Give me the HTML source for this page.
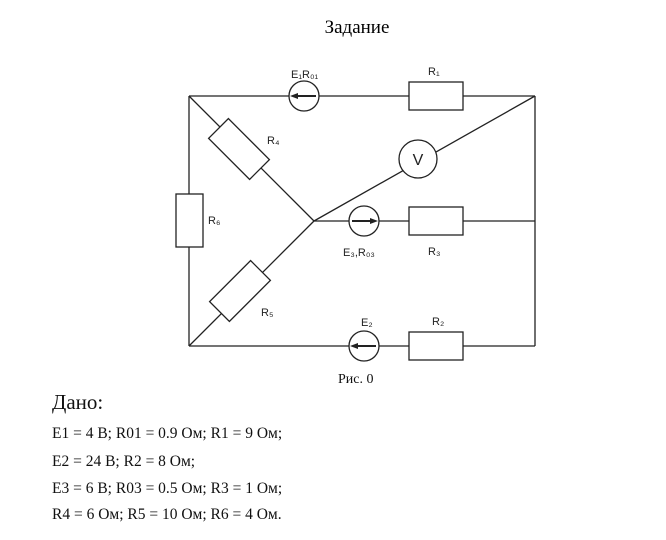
<!DOCTYPE html>
<html><head><meta charset="utf-8"><style>
html,body{margin:0;padding:0;background:#fff;}
svg{display:block;}
</style></head><body>
<svg width="666" height="540" viewBox="0 0 666 540" xmlns="http://www.w3.org/2000/svg">
<rect width="666" height="540" fill="#fff"/>
<text x="357" y="33" font-family="Liberation Serif, serif" font-size="19" text-anchor="middle">Задание</text>
<g stroke="#222" stroke-width="1.3" fill="none">
<line x1="189" y1="96" x2="289" y2="96"/>
<line x1="319" y1="96" x2="409" y2="96"/>
<line x1="463" y1="96" x2="535" y2="96"/>
<line x1="535" y1="96" x2="535" y2="346"/>
<line x1="189" y1="96" x2="189" y2="194"/>
<line x1="189" y1="247" x2="189" y2="346"/>
<line x1="189" y1="346" x2="349" y2="346"/>
<line x1="379" y1="346" x2="409" y2="346"/>
<line x1="463" y1="346" x2="535" y2="346"/>
<rect x="176" y="194" width="27" height="53" fill="#fff"/>
<rect x="409" y="82" width="54" height="28" fill="#fff"/>
<rect x="409" y="207" width="54" height="28" fill="#fff"/>
<rect x="409" y="332" width="54" height="28" fill="#fff"/>
<circle cx="304" cy="96" r="15" fill="#fff"/>
<circle cx="364" cy="221" r="15" fill="#fff"/>
<circle cx="364" cy="346" r="15" fill="#fff"/>
<line x1="189" y1="96" x2="314" y2="221"/>
<line x1="189" y1="346" x2="314" y2="221"/>
<line x1="314" y1="221" x2="349" y2="221"/>
<line x1="379" y1="221" x2="409" y2="221"/>
<line x1="463" y1="221" x2="535" y2="221"/>
<line x1="314" y1="221" x2="535" y2="96"/>
<circle cx="418" cy="159" r="19" fill="#fff"/>
<rect x="210" y="135" width="58" height="28" fill="#fff" transform="rotate(45 239 149)"/>
<rect x="211" y="277" width="58" height="28" fill="#fff" transform="rotate(-45 240 291)"/>
<line x1="316" y1="96" x2="296" y2="96" stroke-width="2"/>
<line x1="352" y1="221" x2="372" y2="221" stroke-width="2"/>
<line x1="376" y1="346" x2="356" y2="346" stroke-width="2"/>
</g>
<g fill="#222">
<polygon points="290,96 298,93 298,99"/>
<polygon points="378,221 370,218 370,224"/>
<polygon points="350,346 358,343 358,349"/>
</g>
<g font-family="Liberation Sans, sans-serif" font-size="11" fill="#222">
<text x="291" y="78">E₁R₀₁</text>
<text x="428" y="75">R₁</text>
<text x="267" y="144">R₄</text>
<text x="418" y="165" font-size="16" text-anchor="middle">V</text>
<text x="208" y="224">R₆</text>
<text x="343" y="256">E₃,R₀₃</text>
<text x="428" y="255">R₃</text>
<text x="261" y="316">R₅</text>
<text x="361" y="326">E₂</text>
<text x="432" y="325">R₂</text>
</g>
<g font-family="Liberation Serif, serif" fill="#111">
<text x="338" y="383" font-size="14">Рис. 0</text>
<text x="52" y="409" font-size="21">Дано:</text>
<text x="52" y="438" font-size="15.5">E1 = 4 В; R01 = 0.9 Ом; R1 = 9 Ом;</text>
<text x="52" y="466" font-size="15.5">E2 = 24 В; R2 = 8 Ом;</text>
<text x="52" y="493" font-size="15.5">E3 = 6 В; R03 = 0.5 Ом; R3 = 1 Ом;</text>
<text x="52" y="519" font-size="15.5">R4 = 6 Ом; R5 = 10 Ом; R6 = 4 Ом.</text>
</g>
</svg>
</body></html>
